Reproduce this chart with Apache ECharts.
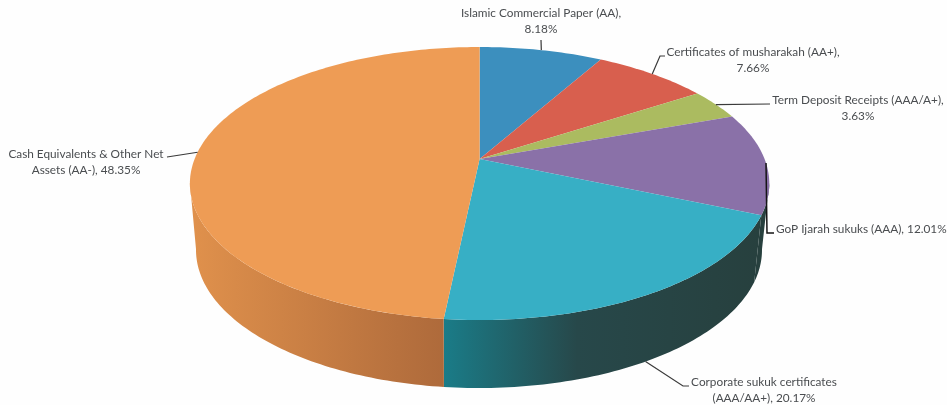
<!DOCTYPE html>
<html>
<head>
<meta charset="utf-8">
<style>html,body{margin:0;padding:0;background:#fff}#chart{width:947px;height:405px}</style>
<script src="https://cdn.jsdelivr.net/npm/echarts@6/dist/echarts.min.js"></script>
</head>
<body>
<div id="chart"></div>
<script>
// Portfolio allocation by holding, percent of net assets, clockwise from twelve o'clock.
const categories = [
  'Islamic Commercial Paper (AA),',
  'Certificates of musharakah (AA+),',
  'Term Deposit Receipts (AAA/A+),',
  'GoP Ijarah sukuks (AAA),',
  'Corporate sukuk certificates',
  'Cash Equivalents & Other Net'
];
const secondLines = ['', '', '', '', '(AAA/AA+),', 'Assets (AA-),'];
const values = [8.18, 7.66, 3.63, 12.01, 20.17, 48.35];
const topColors = ['#3c8fbe', '#d85f4e', '#abbb60', '#8a71a8', '#37afc5', '#ee9c55'];

// Leader and label placement for each slice, in pixels relative to the canvas.
const leaderBends = [
  [[541, 40]],
  [[660, 56], [665, 56]],
  [[770, 104]],
  [[767, 233], [774, 233]],
  [[683, 386], [689, 386]],
  [[180, 155], [167, 157]]
];
const labelAnchors = [[541, 13], [753, 52], [858, 100], [776, 229], [764, 382], [86, 154]];

// Perspective disc: the top face and the lower rim share one vanishing factor.
const tilt = 0.1795;
const topFace = { cx: 479.6, cy: 159, a: 285, b: 132.1 };
const lowFace = { cx: 479, cy: 225.2, a: 278.4, b: 133.6 };
// Rim silhouette runs straight between the faces at these angles.
const rimStart = 100, rimEnd = 260;

function project(face, deg) {
  const t = deg * Math.PI / 180;
  const X = Math.sin(t), Y = -Math.cos(t), w = 1 - tilt * Y;
  return [face.cx + face.a * X / w, face.cy + face.b * Y / w];
}
function arc(face, from, to) {
  const pts = [], n = Math.max(2, Math.ceil(Math.abs(to - from)));
  for (let i = 0; i <= n; i++) pts.push(project(face, from + (to - from) * i / n));
  return pts;
}
const total = values.reduce((s, v) => s + v, 0);
function sliceRange(i) {
  const before = values.slice(0, i).reduce((s, v) => s + v, 0);
  return [before / total * 360, (before + values[i]) / total * 360];
}

// Shading of the rim, per slice; only the front of the disc shows one.
function rimFill(i) {
  if (i === 4) return { type: 'linear', x: 0, y: 0, x2: 1, y2: 0, colorStops: [
    { offset: 0, color: '#1a7c88' }, { offset: 0.42, color: '#27484a' }, { offset: 1, color: '#27403e' }] };
  if (i === 5) return { type: 'linear', x: 0, y: 0, x2: 1, y2: 0, colorStops: [
    { offset: 0, color: '#e0914c' }, { offset: 1, color: '#ae6a3b' }] };
  return '#27403e';
}
function renderRim(params, api) {
  const i = params.dataIndex;
  let [from, to] = sliceRange(i);
  from = Math.max(from, rimStart); to = Math.min(to, rimEnd);
  if (to <= from) return null;
  const points = arc(topFace, from, to).concat(arc(lowFace, to, from));
  return { type: 'polygon', shape: { points }, style: { fill: rimFill(i) } };
}
function renderTop(params, api) {
  const i = params.dataIndex;
  const [from, to] = sliceRange(i);
  const points = [[topFace.cx, topFace.cy]].concat(arc(topFace, from, to));
  return { type: 'polygon', shape: { points }, style: { fill: topColors[i] } };
}
function renderNote(params, api) {
  const i = params.dataIndex;
  const [from, to] = sliceRange(i);
  const mid = (from + to) / 2;
  // The corporate leader leaves from the lower rim, the others from the top edge.
  const start = project(i === 4 ? lowFace : topFace, mid);
  const valueText = api.value(0).toFixed(2) + '%';
  const second = secondLines[i];
  let text;
  if (i === 3) text = categories[i] + ' ' + valueText;
  else if (second) text = categories[i] + '\n' + second + ' ' + valueText;
  else text = categories[i] + '\n' + valueText;
  return {
    type: 'group',
    children: [
      { type: 'polyline', shape: { points: [start].concat(leaderBends[i]) },
        style: { stroke: i === 3 ? '#151515' : '#3a3a3a', lineWidth: i === 3 ? 1.5 : 1.2, fill: null } },
      { type: 'text', x: labelAnchors[i][0], y: labelAnchors[i][1] - 8,
        style: { text, fill: '#4a4d50', font: '11.8px Lato', lineHeight: 16,
          align: i === 3 ? 'left' : 'center', verticalAlign: 'top' } }
    ]
  };
}
const seriesData = values.map((v, i) => ({ name: categories[i], value: v }));
const chart = echarts.init(document.getElementById('chart'), null, { renderer: 'canvas' });
chart.setOption({
  animation: false,
  backgroundColor: '#fefefe',
  series: [
    { type: 'custom', coordinateSystem: 'none', z: 1, renderItem: renderRim, data: seriesData, silent: true },
    { type: 'custom', coordinateSystem: 'none', z: 2, renderItem: renderTop, data: seriesData, silent: true },
    { type: 'custom', coordinateSystem: 'none', z: 3, renderItem: renderNote, data: seriesData, silent: true }
  ]
});
</script>
</body>
</html>
